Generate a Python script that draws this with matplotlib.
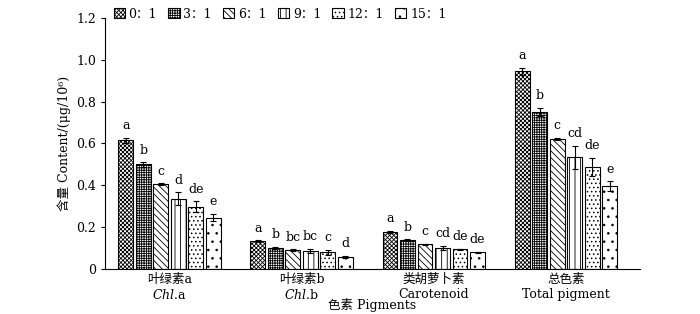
import matplotlib
matplotlib.use("Agg")
import matplotlib.pyplot as plt
import matplotlib.transforms as mtransforms
import numpy as np

plt.rcParams["font.family"] = ["DejaVu Serif", "Noto Sans CJK SC"]
plt.rcParams["mathtext.fontset"] = "dejavuserif"
plt.rcParams["hatch.linewidth"] = 0.6

GROUPS_CN = ["叶绿素a", "叶绿素b", "类胡萝卜素", "总色素"]
GROUPS_EN = ["$\\mathit{Chl}$.a", "$\\mathit{Chl}$.b", "Carotenoid", "Total pigment"]
RATIOS = ["0：1", "3：1", "6：1", "9：1", "12：1", "15：1"]

# rows: ratio, cols: pigment group
MEANS = [
    [0.615, 0.134, 0.178, 0.945],
    [0.500, 0.102, 0.139, 0.752],
    [0.407, 0.091, 0.118, 0.622],
    [0.336, 0.086, 0.100, 0.535],
    [0.298, 0.080, 0.094, 0.488],
    [0.246, 0.059, 0.080, 0.395],
]
ERRORS = [
    [0.011, 0.004, 0.004, 0.016],
    [0.010, 0.004, 0.004, 0.019],
    [0.003, 0.003, 0.002, 0.004],
    [0.032, 0.010, 0.011, 0.055],
    [0.027, 0.011, 0.004, 0.043],
    [0.017, 0.004, 0.004, 0.024],
]
LETTERS = [
    ["a", "a", "a", "a"],
    ["b", "b", "b", "b"],
    ["c", "bc", "c", "c"],
    ["d", "bc", "cd", "cd"],
    ["de", "c", "de", "de"],
    ["e", "d", "de", "e"],
]
HATCHES = ["xxxxxxxx", "+++++++", "\\\\\\\\\\", "|||", "....", ".."]

fig = plt.figure(figsize=(7.0, 3.14), dpi=100)
ax = fig.add_axes([0.15, 0.143, 0.764, 0.8])

x = np.arange(len(GROUPS_CN))
step = 0.1326
width = 0.113
for i, ratio in enumerate(RATIOS):
    pos = x + (i - 2.5) * step
    ax.bar(pos, MEANS[i], width, yerr=ERRORS[i], color="white", edgecolor="black",
           hatch=HATCHES[i], linewidth=0.8, label=ratio,
           error_kw=dict(ecolor="black", elinewidth=0.8, capsize=2.5, capthick=0.8))
    for j in range(len(GROUPS_CN)):
        ax.annotate(LETTERS[i][j], (pos[j], MEANS[i][j] + ERRORS[i][j]),
                    xytext=(0, 4), textcoords="offset points",
                    ha="center", va="bottom", fontsize=9)

ax.set_xlim(-0.489, 3.56)
ax.set_ylim(0, 1.2)
ax.set_yticks([0, 0.2, 0.4, 0.6, 0.8, 1.0, 1.2])
ax.set_yticklabels(["0", "0.2", "0.4", "0.6", "0.8", "1.0", "1.2"])
ax.set_xticks(x)
ax.set_xticklabels(GROUPS_CN, fontsize=9)
ax.tick_params(axis="x", length=0, pad=3)
ax.tick_params(axis="y", labelsize=9, length=3, width=0.8)
trans = mtransforms.blended_transform_factory(ax.transData, ax.transAxes)
for j, name in enumerate(GROUPS_EN):
    ax.text(x[j], -0.103, name, transform=trans, ha="center", va="center", fontsize=9)
ax.spines["top"].set_visible(False)
ax.spines["right"].set_visible(False)
ax.spines["left"].set_linewidth(0.8)
ax.spines["bottom"].set_linewidth(0.8)
ax.set_ylabel("含量 Content/(μg/10⁶)", fontsize=9)
ax.xaxis.set_label_coords(0.43, -0.143)
ax.set_xlabel("色素 Pigments", fontsize=9, va="center")

fig.legend(loc="upper center", bbox_to_anchor=(280 / 700, 1.0), ncol=6, frameon=False,
           fontsize=9, handlelength=0.9, handleheight=0.9, handletextpad=0.3,
           columnspacing=0.9, borderpad=0.1)

fig.savefig("out.png", dpi=100)
